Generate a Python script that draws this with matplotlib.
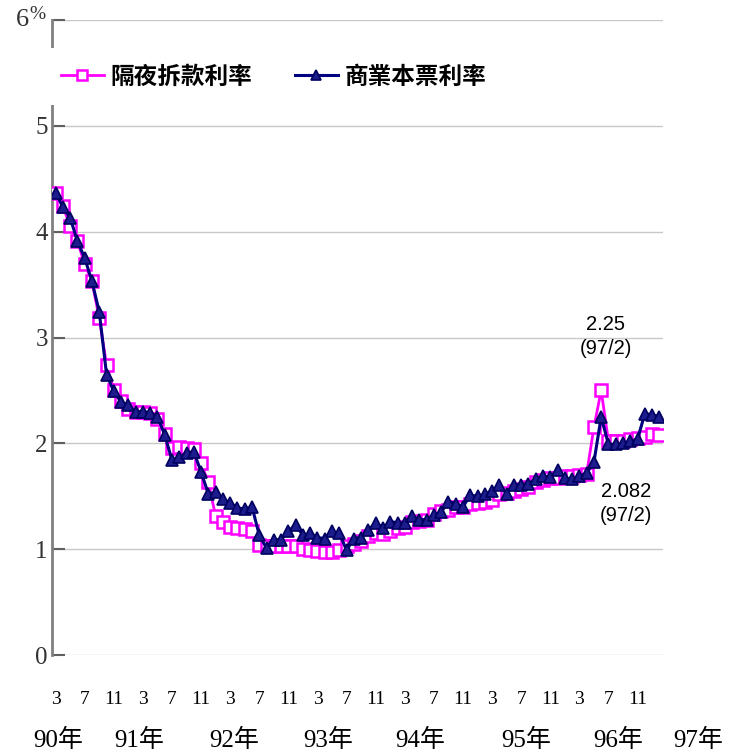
import matplotlib
matplotlib.use("Agg")
import matplotlib.pyplot as plt
import numpy as np

# ---- data (monthly, 90/3 .. 97/2) ----
call_rate = [4.37, 4.24, 4.05, 3.91, 3.69, 3.53, 3.18, 2.74, 2.50, 2.40,
             2.32, 2.30, 2.30, 2.29, 2.23, 2.09, 1.96, 1.97, 1.96, 1.95,
             1.81, 1.63, 1.31, 1.26, 1.21, 1.20, 1.19, 1.17, 1.04, 1.03,
             1.03, 1.03, 1.03, 1.03, 1.00, 0.99, 0.98, 0.97, 0.97, 0.99,
             1.03, 1.05, 1.08, 1.12, 1.15, 1.14, 1.17, 1.20, 1.21, 1.26,
             1.27, 1.28, 1.33, 1.36, 1.37, 1.40, 1.40, 1.43, 1.44, 1.45,
             1.46, 1.52, 1.53, 1.55, 1.57, 1.59, 1.63, 1.65, 1.67, 1.67,
             1.69, 1.69, 1.70, 1.71, 2.15, 2.50, 2.02, 2.02, 2.02, 2.04,
             2.05, 2.06, 2.09, 2.082]
cp_rate = [4.37, 4.23, 4.13, 3.91, 3.75, 3.53, 3.24, 2.65, 2.49, 2.39,
           2.36, 2.30, 2.30, 2.29, 2.25, 2.08, 1.84, 1.87, 1.91, 1.92,
           1.73, 1.52, 1.54, 1.47, 1.44, 1.39, 1.38, 1.40, 1.13, 1.01,
           1.09, 1.09, 1.17, 1.23, 1.13, 1.15, 1.11, 1.10, 1.17, 1.15,
           0.99, 1.10, 1.11, 1.18, 1.25, 1.20, 1.26, 1.25, 1.25, 1.31,
           1.28, 1.28, 1.32, 1.35, 1.45, 1.43, 1.40, 1.51, 1.50, 1.52,
           1.55, 1.61, 1.52, 1.61, 1.61, 1.62, 1.66, 1.69, 1.68, 1.75,
           1.67, 1.66, 1.69, 1.72, 1.82, 2.25, 1.99, 1.99, 2.00, 2.02,
           2.04, 2.28, 2.27, 2.25]
series_names = ["隔夜拆款利率", "商業本票利率"]
month_labels = ["3", "7", "11"] * 7
year_labels = ["90年", "91年", "92年", "93年", "94年", "95年", "96年", "97年"]
last_label = "(97/2)"

# ---- layout ----
year_label_x = [0.4, 11.5, 24.5, 37.5, 50.1, 64.7, 77.3, 88.3]
W, H = 739, 754
fig = plt.figure(figsize=(W / 100, H / 100), dpi=100)
ax = fig.add_axes([52 / W, 1 - 655 / H, (663 - 52) / W, (655 - 20) / H])

x = np.arange(len(call_rate))
ax.plot(x, call_rate, color="#FF00FF", lw=2, marker="s", ms=8,
        mfc="white", mec="#FF00FF", mew=1.8, zorder=3, label=series_names[0])
ax.plot(x, cp_rate, color="#000080", lw=2.2, marker="^", ms=9,
        mfc="#1c1c8c", mec="#000060", mew=1.2, zorder=4, label=series_names[1])

ax.set_xlim(-0.5, 83.5)
ax.set_ylim(0, 6)
ax.set_yticks(range(0, 7))
ax.set_yticklabels(["0", "1", "2", "3", "4", "5", ""])
ax.grid(axis="y", color="#c8c8c8", lw=1, zorder=0)
ax.set_axisbelow(True)
for s in ["top", "right", "bottom"]:
    ax.spines[s].set_visible(False)
ax.spines["left"].set_color("#808080")
ax.spines["left"].set_linewidth(2)
ax.tick_params(axis="y", direction="in", length=9, width=1.5, color="#606060",
               pad=3, labelsize=18)
for lab in ax.get_yticklabels():
    lab.set_family("Liberation Serif")
    lab.set_color("#333333")

ax.set_xticks(x[::4])
ax.set_xticklabels(month_labels)
ax.tick_params(axis="x", length=0, pad=26, labelsize=14)
for lab in ax.get_xticklabels():
    lab.set_family("Liberation Serif")

# 6% label
trans = ax.get_yaxis_transform()
ax.text(-0.038, 6, "6", transform=trans, ha="right", va="center",
        fontsize=19, family="Liberation Serif", color="#333333")
ax.text(-0.011, 6.05, "%", transform=trans, ha="right", va="center",
        fontsize=14, family="Liberation Serif", color="#333333")

# year labels
for xp, yl in zip(year_label_x, year_labels):
    ax.text(xp, -0.134, yl, transform=ax.get_xaxis_transform(), ha="center",
            va="center", fontsize=18, family=["Liberation Serif", "Noto Sans CJK TC"],
            clip_on=False)

# annotations
ax.text(75.6, 3.01, f"{cp_rate[-1]:.2f}\n{last_label}", ha="center", va="center",
        fontsize=14.5, family="Liberation Sans", linespacing=1.35)
ax.text(78.4, 1.43, f"{call_rate[-1]:.3f}\n{last_label}", ha="center", va="center",
        fontsize=14.5, family="Liberation Sans", linespacing=1.35)

leg = ax.legend(loc="upper left", bbox_to_anchor=(-0.012, 0.956), ncol=2,
                borderaxespad=0, frameon=True, fancybox=False, edgecolor="none",
                facecolor="white", framealpha=1, handlelength=1.8,
                columnspacing=1.8, handletextpad=0.3, borderpad=0.7,
                prop={"family": "Noto Sans CJK TC", "weight": "bold", "size": 17})
leg.set_zorder(10)
for h in leg.legend_handles:
    h.set_markersize(7)

fig.savefig("out.png", dpi=100)
